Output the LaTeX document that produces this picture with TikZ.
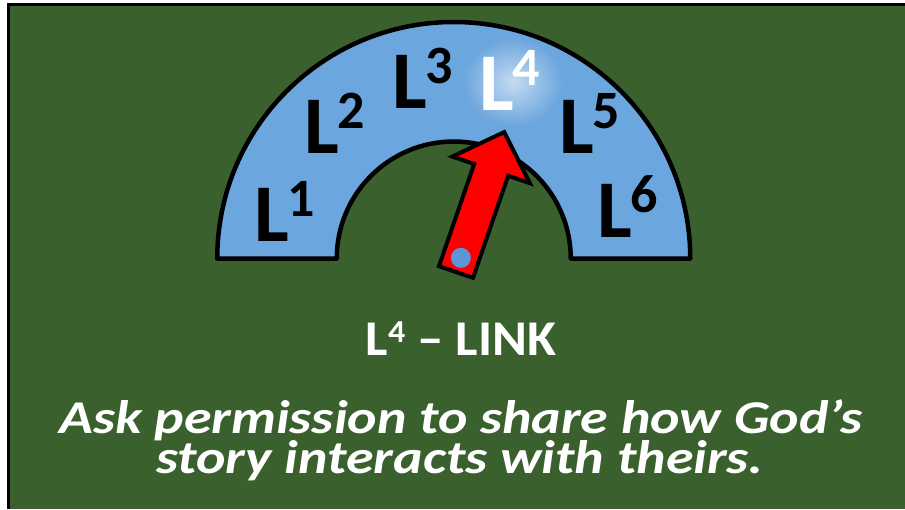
\documentclass[tikz,border=0pt]{standalone}
\usepackage{fontspec}
\setmainfont{Carlito}
\usetikzlibrary{fadings}
\definecolor{boardgreen}{RGB}{58,96,46}
\definecolor{dialblue}{RGB}{108,166,222}
\definecolor{dotblue}{RGB}{92,150,214}
\definecolor{pointerred}{RGB}{255,0,0}

\newcommand{\lvl}[1]{L\kern-1pt\raisebox{25pt}{\fontsize{54}{54}\selectfont #1}}
\tikzfading[name=glowfade, inner color=transparent!0, outer color=transparent!100]

\begin{document}
\begin{tikzpicture}[x=1pt, y=-1pt,
    lvlbox/.style={font=\fontsize{82}{82}\selectfont\bfseries, inner sep=0pt, anchor=base west},
    slidetext/.style={text=white, inner sep=0pt, anchor=base}]
    \useasboundingbox (0,0) rectangle (905,509);
    \fill[white] (0,0) rectangle (905,509);
    \fill[boardgreen] (8.5,4.5) rectangle (905,509);
    \draw[line width=3pt] (8.5,509) -- (8.5,4.5) -- (905,4.5);
    % dial
    \filldraw[fill=dialblue, draw=black, line width=4.5pt, line join=round]
        (217.25,258.5) arc[start angle=180, end angle=360, radius=236.5]
        -- (570.75,258.5) arc[start angle=360, end angle=180, radius=117] -- cycle;
    % levels
    \foreach \n/\px/\py in {1/260/241, 2/310/153, 3/398/108, 5/565/153, 6/603/237}
        \node[lvlbox] (lev\n) at (\px-6,\py) {\lvl{\n}};
    \fill[white, opacity=0.6, path fading=glowfade] (513,82) ellipse (50 and 44);
    \node[lvlbox, text=white] (lev4) at (479,110) {\lvl{4}};
    % pointer
    \begin{scope}[shift={(456,272)}, rotate=71]
        \filldraw[fill=pointerred, draw=black, line width=4pt, line join=miter]
            (0,-18) -- (108,-18) -- (108,-41) -- (148,0) -- (108,41) -- (108,18) -- (0,18) -- cycle;
        \fill[dotblue] (15,0) circle (10);
    \end{scope}
    % caption
    \node[slidetext, font=\fontsize{50}{50}\selectfont\bfseries] (title) at (461,355)
        {\scalebox{1.06}[1]{L\raisebox{13pt}{\fontsize{32}{32}\selectfont 4} – LINK}};
    \node[slidetext, text depth=0pt, font=\fontsize{47}{47}\selectfont\bfseries\itshape] (ask) at (461,433)
        {\scalebox{1.19}[1]{Ask permission to share how God’s}};
    \node[slidetext, text height=22pt, font=\fontsize{47}{47}\selectfont\bfseries\itshape] (story) at (460,473)
        {\scalebox{1.19}[1]{story interacts with theirs.}};
\end{tikzpicture}
\end{document}
